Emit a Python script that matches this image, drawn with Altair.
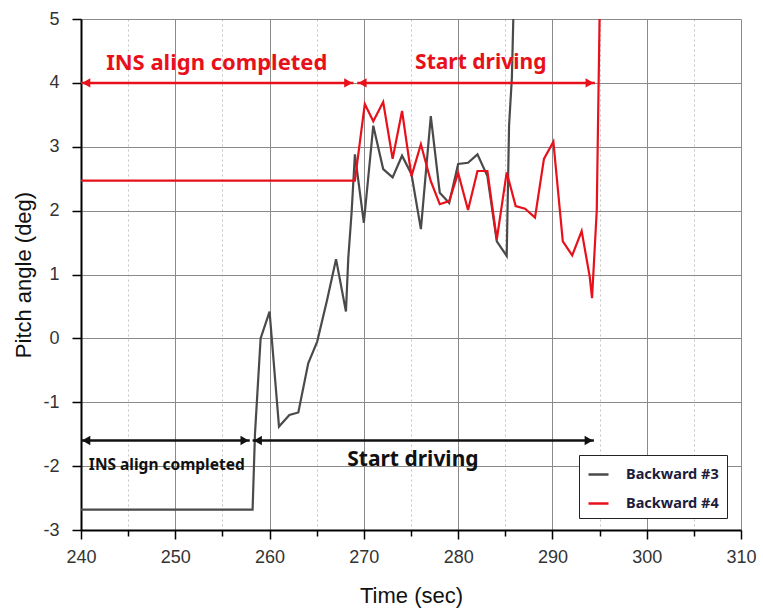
import altair as alt
import pandas as pd

# Pitch angle traces (time in s, angle in deg)
t_b3 = [240, 258.2, 258.45, 259.05, 260.0, 261.0, 262.1, 263.05, 264.1, 265.05,
        266.1, 267.05, 268.1, 268.35, 268.7, 269.05, 270.0, 271.0, 272.05, 273.05,
        274.05, 275.05, 276.05, 277.1, 278.05, 279.05, 280.0, 281.05, 282.05, 283.1,
        284.1, 285.15, 285.4, 285.7, 285.85]
v_b3 = [-2.68, -2.68, -1.5, 0.0, 0.42, -1.38, -1.2, -1.16, -0.39, -0.05,
        0.6, 1.24, 0.42, 1.26, 1.97, 2.88, 1.81, 3.33, 2.65, 2.52,
        2.86, 2.57, 1.71, 3.48, 2.28, 2.12, 2.73, 2.75, 2.88, 2.54,
        1.52, 1.29, 3.33, 4.08, 5.0]

t_b4 = [240, 269.05, 270.1, 271.0, 272.05, 273.05, 274.05, 275.05, 276.05, 277.1,
        278.05, 279.05, 280.0, 281.05, 282.05, 283.1, 284.1, 285.15, 286.1, 287.1,
        288.15, 289.1, 290.1, 291.1, 292.1, 293.1, 293.95, 294.2, 294.7, 295.0]
v_b4 = [2.47, 2.47, 3.67, 3.40, 3.70, 2.81, 3.56, 2.54, 3.04, 2.46,
        2.10, 2.15, 2.59, 2.01, 2.62, 2.62, 1.55, 2.60, 2.07, 2.03,
        1.89, 2.81, 3.08, 1.52, 1.30, 1.68, 0.97, 0.63, 2.0, 5.0]

series_names = ["Backward #3", "Backward #4"]
series_colors = ["#4a4a4a", "#e8101a"]

# Phase annotations: arrow spans, arrowheads and captions
span_start = [240.0, 269.3, 240.0, 258.2]
span_end = [268.9, 294.5, 257.9, 294.4]
span_y = [4.0, 4.0, -1.6, -1.6]
span_color = ["red", "red", "black", "black"]

head_t = [240.55, 268.35, 269.85, 293.95, 240.55, 257.35, 258.75, 293.85]
head_y = [4.0, 4.0, 4.0, 4.0, -1.6, -1.6, -1.6, -1.6]
head_shape = ["triangle-left", "triangle-right", "triangle-left", "triangle-right",
              "triangle-left", "triangle-right", "triangle-left", "triangle-right"]
head_color = ["red", "red", "red", "red", "black", "black", "black", "black"]

label_text = ["INS align completed", "Start driving", "INS align completed", "Start driving"]
label_t = [254.4, 282.4, 249.1, 275.2]
label_y = [4.31, 4.31, -1.98, -1.9]
label_size = [22, 21, 15.5, 21]
label_color = ["red", "red", "black", "black"]

x_values = list(range(240, 311, 5))
y_values = [-3 + 0.5 * i for i in range(17)]

lines = pd.concat([
    pd.DataFrame({"t": t_b3, "v": v_b3, "series": series_names[0]}),
    pd.DataFrame({"t": t_b4, "v": v_b4, "series": series_names[1]}),
])
spans = pd.DataFrame({"t": span_start, "t2": span_end, "v": span_y, "c": span_color})
heads = pd.DataFrame({"t": head_t, "v": head_y, "shape": head_shape, "c": head_color})
labels = pd.DataFrame({"text": label_text, "t": label_t, "v": label_y,
                       "size": label_size, "c": label_color})

color_map = alt.Scale(domain=["red", "black"], range=["#e8101a", "#111111"])

x_scale = alt.Scale(domain=[240, 310], nice=False, zero=False)
y_scale = alt.Scale(domain=[-3, 5], nice=False, zero=False)

major_x = "datum.value % 10 === 0"
major_y = "datum.value % 1 === 0"

x_axis = alt.Axis(
    title="Time (sec)", values=x_values,
    labelExpr=f"{major_x} ? '' + datum.value : ''",
    tickSize={"condition": {"test": major_x, "value": 9}, "value": 6},
    gridDash={"condition": {"test": major_x, "value": []}, "value": [2, 3]},
    gridColor={"condition": {"test": major_x, "value": "#8a8a8a"}, "value": "#c4c4c4"},
    labelFlush=False, labelPadding=9, titlePadding=19,
)
y_axis = alt.Axis(
    title="Pitch angle (deg)", values=y_values,
    labelExpr=f"{major_y} ? '' + datum.value : ''",
    tickSize={"condition": {"test": major_y, "value": 9}, "value": 6},
    gridDash={"condition": {"test": major_y, "value": []}, "value": [2, 3]},
    gridColor={"condition": {"test": major_y, "value": "#8a8a8a"}, "value": "#c4c4c4"},
    labelFlush=False, labelPadding=13, titlePadding=7,
)

trace = alt.Chart(lines).mark_line(strokeWidth=2.2, clip=True).encode(
    x=alt.X("t:Q", scale=x_scale, axis=x_axis),
    y=alt.Y("v:Q", scale=y_scale, axis=y_axis),
    color=alt.Color("series:N",
                    scale=alt.Scale(domain=series_names, range=series_colors),
                    legend=alt.Legend(title=None, orient="none", legendX=498, legendY=436,
                                      symbolType="stroke", symbolSize=400,
                                      symbolStrokeWidth=2.5, labelFontSize=14.5,
                                      labelFont="Noto Sans", labelFontWeight="bold",
                                      labelColor="#1c1c3c", strokeColor="#222222",
                                      fillColor="white", padding=8, rowPadding=11,
                                      labelOffset=16)),
    detail="series:N",
)

span_rules = alt.Chart(spans).mark_rule(strokeWidth=2.5).encode(
    x="t:Q", x2="t2:Q", y="v:Q",
    color=alt.Color("c:N", scale=color_map, legend=None),
)

span_heads = alt.Chart(heads).mark_point(filled=True, size=90, opacity=1).encode(
    x="t:Q", y="v:Q",
    shape=alt.Shape("shape:N", scale=None, legend=None),
    color=alt.Color("c:N", scale=color_map, legend=None),
)

captions = alt.Chart(labels).mark_text(font="Noto Sans", fontWeight="bold").encode(
    x="t:Q", y="v:Q", text="text:N",
    size=alt.Size("size:Q", scale=None, legend=None),
    color=alt.Color("c:N", scale=color_map, legend=None),
)

chart = alt.layer(trace, span_rules, span_heads, captions).resolve_scale(
    color="independent"
).properties(
    width=660, height=511,
    autosize=alt.AutoSizeParams(type="none"),
    padding={"left": 81, "top": 19, "right": 22, "bottom": 79},
).configure_view(stroke=None).configure_axis(
    domainColor="#000000", domainWidth=2, tickColor="#000000", tickWidth=1.5,
    labelFont="Liberation Sans", labelFontSize=18, labelColor="#333333",
    titleFont="Liberation Sans", titleFontSize=22, titleFontWeight="normal",
    titleColor="#111111", gridWidth=1,
)

chart.save("out.html", embed_options={"renderer": "svg", "actions": False})
